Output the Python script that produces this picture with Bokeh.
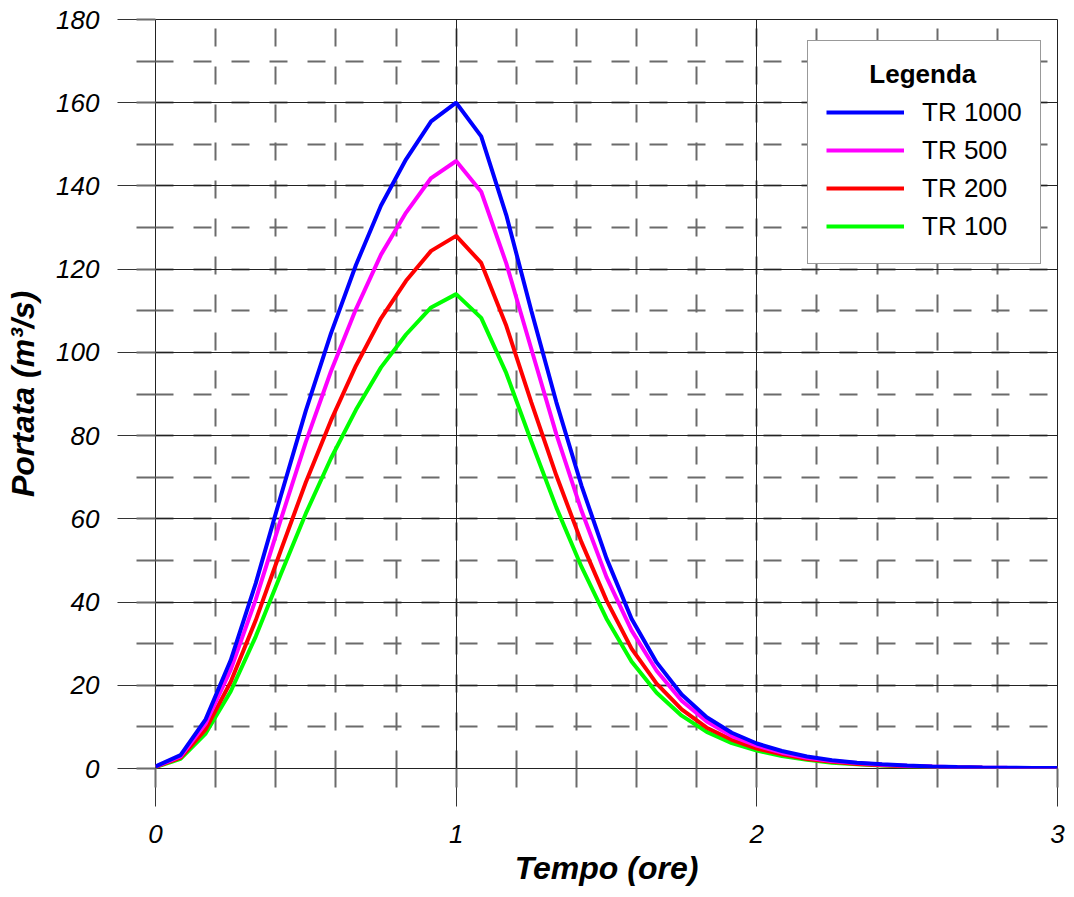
from bokeh.plotting import figure
from bokeh.models import SingleIntervalTicker, Legend, LegendItem, Range1d
from bokeh.embed import file_html
from bokeh.resources import INLINE

# Tempo (ore) - passo di 5 minuti
tempo = [0.0, 0.0833, 0.1667, 0.25, 0.3333, 0.4167, 0.5, 0.5833, 0.6667, 0.75,
         0.8333, 0.9167, 1.0, 1.0833, 1.1667, 1.25, 1.3333, 1.4167, 1.5, 1.5833,
         1.6667, 1.75, 1.8333, 1.9167, 2.0, 2.0833, 2.1667, 2.25, 2.3333, 2.4167,
         2.5, 2.5833, 2.6667, 2.75, 2.8333, 2.9167, 3.0]

tr1000 = [0.5, 3.2, 11.8, 26.0, 44.5, 65.5, 86.0, 104.5, 121.0, 135.3,
          146.4, 155.5, 160.0, 151.9, 133.0, 110.0, 88.0, 68.0, 50.5, 36.0,
          25.5, 17.8, 12.3, 8.6, 6.0, 4.2, 2.9, 2.0, 1.4, 1.0,
          0.7, 0.5, 0.35, 0.25, 0.18, 0.12, 0.1]

tr500 = [0.45, 2.9, 10.8, 23.7, 40.6, 59.8, 78.5, 95.4, 110.4, 123.5,
         133.6, 141.9, 146.0, 138.6, 121.4, 100.8, 80.3, 62.0, 46.0, 33.2,
         23.5, 16.3, 11.3, 7.8, 5.5, 3.8, 2.6, 1.8, 1.3, 0.9,
         0.64, 0.46, 0.32, 0.23, 0.16, 0.11, 0.09]

tr200 = [0.4, 2.6, 9.4, 20.8, 35.6, 52.4, 68.8, 83.6, 96.8, 108.2,
         117.2, 124.4, 128.0, 121.5, 106.4, 88.0, 70.4, 54.4, 40.4, 28.8,
         20.4, 14.2, 9.8, 6.9, 4.8, 3.4, 2.3, 1.6, 1.1, 0.8,
         0.56, 0.4, 0.28, 0.2, 0.14, 0.1, 0.08]

tr100 = [0.36, 2.3, 8.4, 18.5, 31.7, 46.7, 61.3, 74.5, 86.2, 96.4,
         104.3, 110.8, 114.0, 108.3, 95.0, 78.6, 62.7, 48.5, 36.0, 25.7,
         18.2, 12.7, 8.8, 6.1, 4.3, 3.0, 2.1, 1.4, 1.0, 0.7,
         0.5, 0.36, 0.25, 0.18, 0.13, 0.09, 0.07]

series_labels = ["TR 1000", "TR 500", "TR 200", "TR 100"]
series_colors = ["#0000ff", "#ff00ff", "#ff0000", "#00ff00"]
legend_title = "Legenda"

FONT = "Liberation Sans"

p = figure(width=1066, height=893,
           x_range=Range1d(0, 3), y_range=Range1d(0, 180),
           output_backend="svg", toolbar_location=None,
           min_border_left=155, min_border_right=9,
           min_border_top=19, min_border_bottom=125,
           x_axis_label="Tempo (ore)", y_axis_label="Portata (m³/s)")

p.background_fill_color = "white"
p.border_fill_color = "white"
p.outline_line_color = "#222222"
p.outline_line_width = 1

p.xaxis.ticker = SingleIntervalTicker(interval=1, num_minor_ticks=5)
p.yaxis.ticker = SingleIntervalTicker(interval=20, num_minor_ticks=2)

for ax in (p.xaxis, p.yaxis):
    ax.axis_line_color = None
    ax.major_tick_in = 0
    ax.major_tick_out = 38
    ax.minor_tick_in = 0
    ax.minor_tick_out = 19
    ax.major_tick_line_color = "#333333"
    ax.major_tick_line_width = 1
    ax.minor_tick_line_color = "#6b6b6b"
    ax.minor_tick_line_width = 2
    ax.major_label_text_font = FONT
    ax.major_label_text_font_size = "26px"
    ax.major_label_text_font_style = "italic"
    ax.major_label_text_color = "black"
    ax.major_label_standoff = 18
    ax.axis_label_text_font = FONT
    ax.axis_label_text_font_size = "32px"
    ax.axis_label_text_font_style = "bold italic"
    ax.axis_label_text_color = "black"

p.xaxis.axis_label_standoff = 4
p.yaxis.axis_label_standoff = 12

for g in (p.xgrid, p.ygrid):
    g.grid_line_color = "#222222"
    g.grid_line_width = 1
    g.minor_grid_line_color = "#6b6b6b"
    g.minor_grid_line_width = 2
    g.minor_grid_line_dash = "18 20"

r100 = p.line(tempo, tr100, line_color=series_colors[3], line_width=4)
r200 = p.line(tempo, tr200, line_color=series_colors[2], line_width=4)
r500 = p.line(tempo, tr500, line_color=series_colors[1], line_width=4)
r1000 = p.line(tempo, tr1000, line_color=series_colors[0], line_width=4)

legend = Legend(
    items=[LegendItem(label=series_labels[0], renderers=[r1000]),
           LegendItem(label=series_labels[1], renderers=[r500]),
           LegendItem(label=series_labels[2], renderers=[r200]),
           LegendItem(label=series_labels[3], renderers=[r100])],
    location=(652, 504),
    title="\u00a0" * 6 + legend_title,
    title_text_font=FONT, title_text_font_style="bold",
    title_text_font_size="26px", title_text_color="black",
    title_standoff=3,
    label_text_font=FONT, label_text_font_size="26px", label_text_color="black",
    glyph_width=78, glyph_height=38, label_height=38,
    label_standoff=18, padding=18, spacing=0, margin=0,
    border_line_color="#333333", border_line_width=1,
    background_fill_color="white", background_fill_alpha=1.0,
)
p.add_layout(legend)

open("out.html", "w").write(file_html(p, INLINE))
